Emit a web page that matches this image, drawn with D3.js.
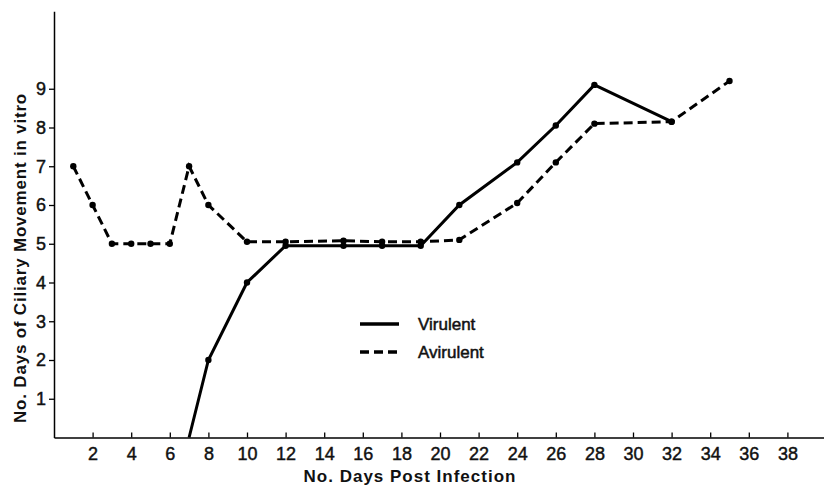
<!DOCTYPE html>
<html>
<head>
<meta charset="utf-8">
<script src="https://cdn.jsdelivr.net/npm/d3@7"></script>
<style>
  body { margin: 0; background: #fff; }
  svg { display: block; font-family: "Liberation Sans", Arial, sans-serif; }
</style>
</head>
<body>
<div id="chart"></div>
<script>
// Days post infection and days of ciliary movement
var virulentDays   = [7, 8, 10, 12, 15, 17, 19, 21, 24, 26, 28, 32];
var virulentValues = [0, 2, 4, 4.95, 4.95, 4.95, 4.95, 6, 7.1, 8.05, 9.1, 8.15];

var avirulentDays   = [1, 2, 3, 4, 5, 6, 7, 8, 10, 12, 15, 17, 19, 21, 24, 26, 28, 32, 35];
var avirulentValues = [7, 6, 5, 5, 5, 5, 7, 6, 5.05, 5.05, 5.08, 5.05, 5.05, 5.1, 6.05, 7.1, 8.1, 8.15, 9.2];

var xTicks = [2, 4, 6, 8, 10, 12, 14, 16, 18, 20, 22, 24, 26, 28, 30, 32, 34, 36, 38];
var yTicks = [1, 2, 3, 4, 5, 6, 7, 8, 9];

var seriesNames = ["Virulent", "Avirulent"];

var width = 824, height = 486;

var svg = d3.select("#chart").append("svg")
    .attr("width", width)
    .attr("height", height);

// Scales: origin sits at the axis corner
var x = d3.scaleLinear().domain([0, 40]).range([54, 826]);
var y = d3.scaleLinear().domain([0, 11]).range([437.5, 11.25]);

// tick label styling shared by both axes
function styleTicks(sel) {
    sel.attr("font-size", 18)
        .attr("fill", "#111")
        .attr("stroke", "#111")
        .attr("stroke-width", 0.45);
}

// X axis, ticks pointing up into the plot
var xAxis = d3.axisBottom(x)
    .tickValues(xTicks)
    .tickSizeInner(-5)
    .tickSizeOuter(0)
    .tickPadding(10);

var gx = svg.append("g")
    .attr("transform", "translate(0," + y(0) + ")")
    .call(xAxis);
gx.select(".domain").attr("stroke-width", 1.5);
gx.selectAll(".tick line").attr("stroke-width", 1.3);
gx.selectAll("text").call(styleTicks);

// Y axis, ticks pointing out to the left
var yAxis = d3.axisLeft(y)
    .tickValues(yTicks)
    .tickSizeInner(5)
    .tickSizeOuter(0)
    .tickPadding(3);

var gy = svg.append("g")
    .attr("transform", "translate(" + x(0) + ",0)")
    .call(yAxis);
gy.select(".domain").attr("stroke-width", 1.5);
gy.selectAll(".tick line").attr("stroke-width", 1.3);
gy.selectAll("text").call(styleTicks);

// Axis titles
svg.append("text")
    .attr("x", 410)
    .attr("y", 482)
    .attr("text-anchor", "middle")
    .attr("font-size", 17)
    .attr("font-weight", "bold")
    .attr("letter-spacing", 1)
    .attr("fill", "#111")
    .text("No. Days Post Infection");

svg.append("text")
    .attr("transform", "translate(26,258) rotate(-90)")
    .attr("text-anchor", "middle")
    .attr("font-size", 17)
    .attr("font-weight", "bold")
    .attr("letter-spacing", 0.8)
    .attr("fill", "#111")
    .text("No. Days of Ciliary Movement in vitro");

// Lines
var line = d3.line()
    .x(function (d) { return x(d[0]); })
    .y(function (d) { return y(d[1]); });

var virulent = d3.zip(virulentDays, virulentValues);
var avirulent = d3.zip(avirulentDays, avirulentValues);

var series = [
    {name: seriesNames[0], data: virulent, dash: null},
    {name: seriesNames[1], data: avirulent, dash: "9,5"}
];

series.forEach(function (s) {
    svg.append("path")
        .datum(s.data)
        .attr("d", line)
        .attr("fill", "none")
        .attr("stroke", "#000")
        .attr("stroke-width", 3)
        .attr("stroke-dasharray", s.dash);

    // the virulent line starts on the axis, so no dot for its zero point
    svg.append("g").selectAll("circle")
        .data(s.data.filter(function (d) { return d[1] > 0; }))
        .enter()
        .append("circle")
        .attr("cx", function (d) { return x(d[0]); })
        .attr("cy", function (d) { return y(d[1]); })
        .attr("r", 3.2)
        .attr("fill", "#000");
});

// Legend
var legend = svg.append("g")
    .attr("transform", "translate(360,324)");

var items = legend.selectAll("g")
    .data(series)
    .enter()
    .append("g")
    .attr("transform", function (d, i) { return "translate(0," + (i * 28) + ")"; });

items.append("line")
    .attr("x1", 0)
    .attr("x2", 39)
    .attr("stroke", "#000")
    .attr("stroke-width", 3.5)
    .attr("stroke-dasharray", function (d) { return d.dash ? "9,5" : null; });

items.append("text")
    .attr("x", 58)
    .attr("dy", "0.35em")
    .attr("font-size", 17)
    .attr("fill", "#111")
    .attr("stroke", "#111")
    .attr("stroke-width", 0.5)
    .text(function (d) { return d.name; });
</script>
</body>
</html>
